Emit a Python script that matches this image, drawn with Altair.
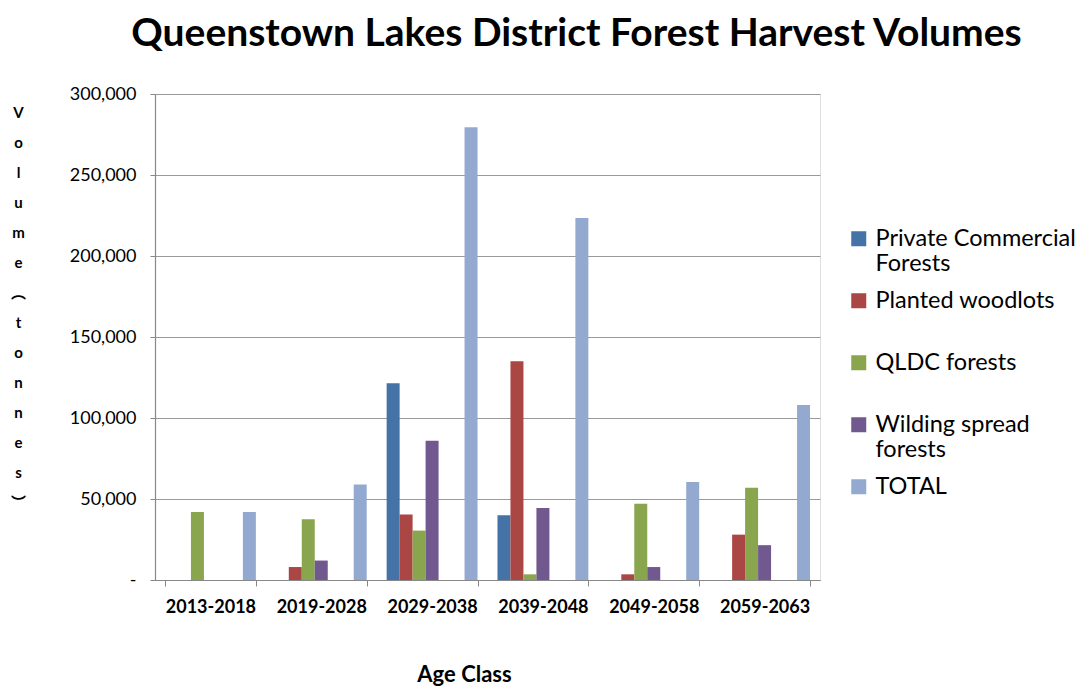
import altair as alt
import pandas as pd

periods = ["2013-2018", "2019-2028", "2029-2038", "2039-2048", "2049-2058", "2059-2063"]
series = ["Private Commercial Forests", "Planted woodlots", "QLDC forests",
          "Wilding spread forests", "TOTAL"]
private_commercial = [0, 0, 121500, 40000, 0, 0]
planted_woodlots = [0, 8000, 40500, 135000, 3500, 28000]
qldc_forests = [42000, 37500, 30500, 3500, 47000, 57000]
wilding_spread = [0, 12000, 86000, 44500, 8000, 21500]
total = [42000, 59000, 279500, 223500, 60500, 108000]
y_ticks = [0, 50000, 100000, 150000, 200000, 250000, 300000]
colors = ["#4572A7", "#AA4643", "#89A54E", "#71588F", "#93A9D0"]
slots = series[:4] + ["gap1", "gap2"] + [series[4]]

rows = []
for name, vals in zip(series, [private_commercial, planted_woodlots, qldc_forests,
                               wilding_spread, total]):
    for p, v in zip(periods, vals):
        rows.append({"Age Class": p, "Series": name, "Volume": v})
df = pd.DataFrame(rows)

y_title = list("Volume") + ["\ufe35"] + list("tonnes") + ["\ufe36"]

legend_expr = ("datum.label == 'Private Commercial Forests' ? ['Private Commercial', 'Forests'] : "
               "datum.label == 'Wilding spread forests' ? ['Wilding spread', 'forests'] : "
               "[datum.label, '']")

chart = alt.Chart(df).mark_bar().encode(
    x=alt.X("Age Class:N", sort=periods,
            scale=alt.Scale(paddingInner=0.18, paddingOuter=0.09),
            axis=alt.Axis(title="Age Class", labelAngle=0, labelFont="Lato",
                          labelFontWeight="bold", labelFontSize=18, labelColor="#000",
                          labelPadding=12, tickBand="extent", ticks=True,
                          tickColor="#888", tickSize=6, domainColor="#888",
                          domainWidth=1.2, titleFont="Lato", titleFontSize=22,
                          titleFontWeight="bold", titleColor="#000", titleX=309,
                          titleY=101, titleBaseline="alphabetic", grid=False)),
    xOffset=alt.XOffset("Series:N", scale=alt.Scale(domain=slots, paddingInner=0,
                                                    paddingOuter=0)),
    y=alt.Y("Volume:Q", scale=alt.Scale(domain=[0, 300000]),
            axis=alt.Axis(values=y_ticks,
                          labelExpr="datum.value == 0 ? '-' : format(datum.value, ',')",
                          labelFont="Lato", labelFontSize=18, labelColor="#000",
                          labelPadding=14, tickColor="#888", tickSize=5,
                          domainColor="#888", domainWidth=1.2,
                          gridColor="#9a9a9a", gridWidth=1.2,
                          title=y_title, titleAngle=0, titleFont="Lato, Noto Sans CJK SC",
                          titleFontSize=15, titleFontWeight="bold", titleColor="#000",
                          titleLineHeight=30, titleX=-137, titleY=11,
                          titleBaseline="top", titleAlign="center")),
    color=alt.Color("Series:N", scale=alt.Scale(domain=series, range=colors),
                    legend=alt.Legend(title=None, orient="none", legendX=692, legendY=133,
                                      labelExpr=legend_expr, labelFont="Lato",
                                      labelFontSize=23.5, labelColor="#000", labelLimit=400,
                                      symbolType="square", symbolSize=225,
                                      symbolStrokeWidth=0, symbolOpacity=1,
                                      rowPadding=12, labelOffset=5, padding=0)),
).properties(
    width=665,
    height=486,
    title=alt.TitleParams(text="Queenstown Lakes District Forest Harvest Volumes",
                          font="Lato", fontSize=39, fontWeight="bold", color="#000",
                          anchor="middle", frame="group", dx=89, dy=41, offset=41,
                          baseline="alphabetic"),
    autosize=alt.AutoSizeParams(type="none"),
    padding={"left": 147, "top": 86, "right": 255, "bottom": 107},
).configure_view(stroke=None).configure(background="white")

chart.save("out.html", embed_options={"renderer": "svg", "actions": False})
